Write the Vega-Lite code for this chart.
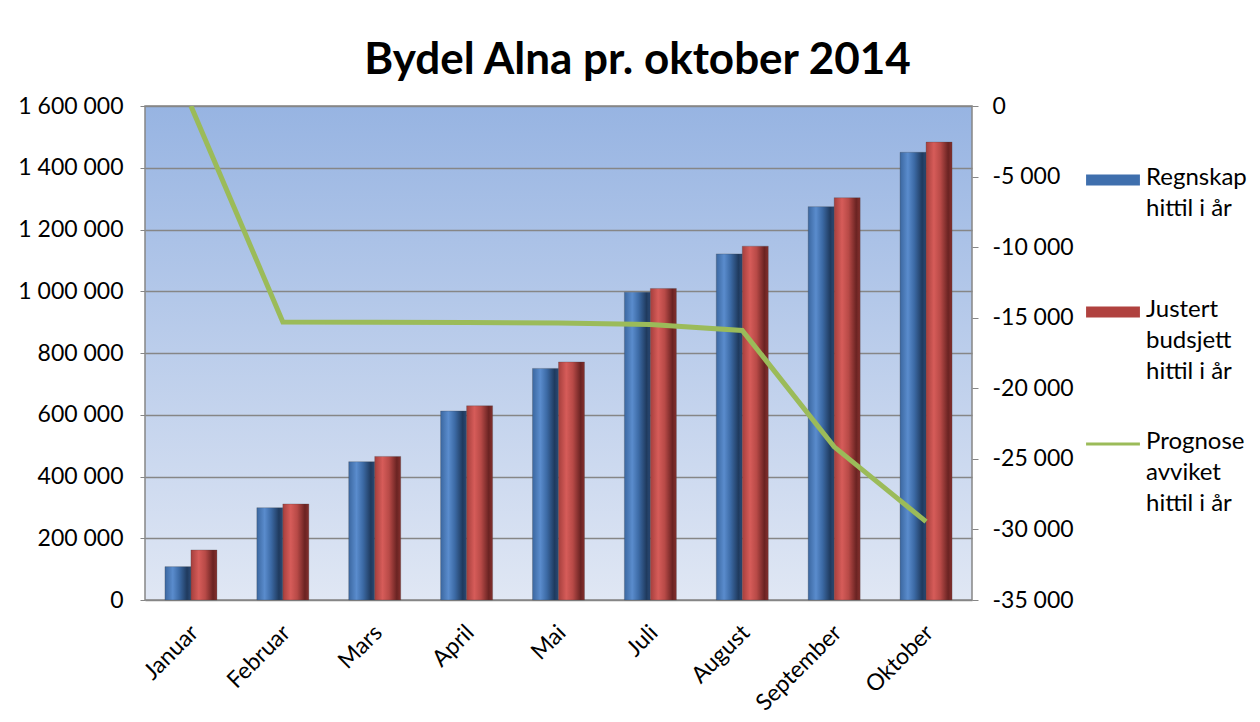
{
  "$schema": "https://vega.github.io/schema/vega-lite/v6.json",
  "autosize": {"type": "none"},
  "width": 827,
  "height": 494,
  "padding": {"left": 145, "top": 106, "right": 288, "bottom": 122},
  "background": "white",
  "title": {
    "text": "Bydel Alna pr. oktober 2014",
    "font": "Lato",
    "fontSize": 44,
    "fontWeight": "bold",
    "color": "#000000",
    "anchor": "middle",
    "dx": 79,
    "offset": 12
  },
  "config": {
    "locale": {
      "number": {"decimal": ",", "thousands": " ", "grouping": [3], "currency": ["", " kr"], "minus": "-"}
    },
    "view": {"stroke": "#868686", "strokeWidth": 1.5},
    "axis": {"labelFont": "Lato", "labelFontSize": 23, "labelColor": "#000000", "titleFont": "Lato"},
    "legend": {"labelFont": "Lato", "labelFontSize": 24, "labelColor": "#000000"}
  },
  "datasets": {
    "bars": [
      {"maaned": "Januar", "serie": "Regnskap hittil i år", "belop": 108000},
      {"maaned": "Januar", "serie": "Justert budsjett hittil i år", "belop": 162000},
      {"maaned": "Februar", "serie": "Regnskap hittil i år", "belop": 299000},
      {"maaned": "Februar", "serie": "Justert budsjett hittil i år", "belop": 311000},
      {"maaned": "Mars", "serie": "Regnskap hittil i år", "belop": 448000},
      {"maaned": "Mars", "serie": "Justert budsjett hittil i år", "belop": 465000},
      {"maaned": "April", "serie": "Regnskap hittil i år", "belop": 612000},
      {"maaned": "April", "serie": "Justert budsjett hittil i år", "belop": 629000},
      {"maaned": "Mai", "serie": "Regnskap hittil i år", "belop": 750000},
      {"maaned": "Mai", "serie": "Justert budsjett hittil i år", "belop": 771000},
      {"maaned": "Juli", "serie": "Regnskap hittil i år", "belop": 997000},
      {"maaned": "Juli", "serie": "Justert budsjett hittil i år", "belop": 1009000},
      {"maaned": "August", "serie": "Regnskap hittil i år", "belop": 1121000},
      {"maaned": "August", "serie": "Justert budsjett hittil i år", "belop": 1146000},
      {"maaned": "September", "serie": "Regnskap hittil i år", "belop": 1274000},
      {"maaned": "September", "serie": "Justert budsjett hittil i år", "belop": 1303000},
      {"maaned": "Oktober", "serie": "Regnskap hittil i år", "belop": 1450000},
      {"maaned": "Oktober", "serie": "Justert budsjett hittil i år", "belop": 1483000}
    ],
    "prognose": [
      {"maaned": "Januar", "serie": "Prognose avviket hittil i år", "avvik": 0},
      {"maaned": "Februar", "serie": "Prognose avviket hittil i år", "avvik": -15300},
      {"maaned": "Mars", "serie": "Prognose avviket hittil i år", "avvik": -15320},
      {"maaned": "April", "serie": "Prognose avviket hittil i år", "avvik": -15340},
      {"maaned": "Mai", "serie": "Prognose avviket hittil i år", "avvik": -15380},
      {"maaned": "Juli", "serie": "Prognose avviket hittil i år", "avvik": -15480},
      {"maaned": "August", "serie": "Prognose avviket hittil i år", "avvik": -15900},
      {"maaned": "September", "serie": "Prognose avviket hittil i år", "avvik": -24150},
      {"maaned": "Oktober", "serie": "Prognose avviket hittil i år", "avvik": -29450}
    ]
  },
  "layer": [
    {
      "data": {"name": "bars"},
      "mark": {"type": "bar", "stroke": "#3a3a3a", "strokeWidth": 0.5, "strokeOpacity": 0.5},
      "encoding": {
        "x": {
          "field": "maaned",
          "type": "nominal",
          "sort": ["Januar", "Februar", "Mars", "April", "Mai", "Juli", "August", "September", "Oktober"],
          "scale": {"paddingInner": 0.434, "paddingOuter": 0.217},
          "axis": {
            "title": null,
            "domain": false,
            "ticks": false,
            "labelAngle": -45,
            "labelAlign": "right",
            "labelBaseline": "top",
            "labelPadding": 21,
            "labelOffset": -4
          }
        },
        "xOffset": {
          "field": "serie",
          "type": "nominal",
          "sort": ["Regnskap hittil i år", "Justert budsjett hittil i år"],
          "scale": {"paddingInner": 0, "paddingOuter": 0}
        },
        "y": {
          "field": "belop",
          "type": "quantitative",
          "scale": {"domain": [0, 1600000], "nice": false},
          "axis": {
            "title": null,
            "values": [0, 200000, 400000, 600000, 800000, 1000000, 1200000, 1400000, 1600000],
            "format": ",d",
            "domain": false,
            "grid": true,
            "gridColor": "#868686",
            "gridWidth": 1.5,
            "tickColor": "#868686",
            "tickSize": 5,
            "labelPadding": 17
          }
        },
        "fill": {
          "condition": {
            "test": "datum.serie === 'Regnskap hittil i år'",
            "value": {
              "gradient": "linear", "x1": 0, "x2": 1, "y1": 0, "y2": 0,
              "stops": [
                {"offset": 0, "color": "#3b67a0"},
                {"offset": 0.3, "color": "#5a8ccd"},
                {"offset": 0.55, "color": "#3c6aa5"},
                {"offset": 0.85, "color": "#1f3a5e"},
                {"offset": 1, "color": "#2b4a75"}
              ]
            }
          },
          "value": {
            "gradient": "linear", "x1": 0, "x2": 1, "y1": 0, "y2": 0,
            "stops": [
              {"offset": 0, "color": "#a53f3d"},
              {"offset": 0.3, "color": "#d65c59"},
              {"offset": 0.55, "color": "#b84a47"},
              {"offset": 0.85, "color": "#6a2322"},
              {"offset": 1, "color": "#84302e"}
            ]
          }
        }
      }
    },
    {
      "data": {"name": "prognose"},
      "mark": {"type": "line", "strokeWidth": 5, "clip": true},
      "encoding": {
        "x": {
          "field": "maaned",
          "type": "nominal",
          "sort": ["Januar", "Februar", "Mars", "April", "Mai", "Juli", "August", "September", "Oktober"]
        },
        "y": {
          "field": "avvik",
          "type": "quantitative",
          "scale": {"domain": [-35000, 0], "nice": false},
          "axis": {
            "orient": "right",
            "title": null,
            "values": [0, -5000, -10000, -15000, -20000, -25000, -30000, -35000],
            "format": ",d",
            "domain": false,
            "grid": false,
            "tickColor": "#868686",
            "tickSize": 6,
            "labelPadding": 14
          }
        },
        "color": {
          "field": "serie",
          "type": "nominal",
          "scale": {
            "domain": ["Regnskap hittil i år", "Justert budsjett hittil i år", "Prognose avviket hittil i år"],
            "range": ["#4a7ebb", "#be4b48", "#9bbb59"]
          },
          "legend": {
            "title": null,
            "orient": "none",
            "legendX": 941,
            "legendY": 47,
            "padding": 0,
            "symbolSize": 2900,
            "labelOffset": 6,
            "labelBaseline": "top",
            "labelLimit": 200,
            "rowPadding": 33,
            "labelExpr": "datum.label === 'Regnskap hittil i år' ? ['Regnskap', 'hittil i år', ''] : datum.label === 'Justert budsjett hittil i år' ? ['Justert', 'budsjett', 'hittil i år'] : ['Prognose', 'avviket', 'hittil i år']",
            "encode": {
              "symbols": {
                "update": {
                  "shape": {"signal": "datum.value === 'Prognose avviket hittil i år' ? 'M-1,-0.055H1V0.055H-1Z' : 'M-1,-0.2H1V0.2H-1Z'"},
                  "fill": {"signal": "datum.value === 'Regnskap hittil i år' ? '#3f6fad' : datum.value === 'Justert budsjett hittil i år' ? '#b0423f' : '#9bbb59'"},
                  "stroke": {"value": "#9bbb59"},
                  "strokeWidth": {"value": 0},
                  "opacity": {"value": 1}
                }
              },
              "labels": {
                "update": {
                  "lineHeight": {"value": 31},
                  "dy": {"value": -14}
                }
              }
            }
          }
        }
      }
    }
  ],
  "resolve": {"scale": {"y": "independent"}},
  "view": {
    "stroke": "#868686",
    "strokeWidth": 1.5,
    "fill": {
      "gradient": "linear", "x1": 0, "x2": 0, "y1": 0, "y2": 1,
      "stops": [
        {"offset": 0, "color": "#97b4e2"},
        {"offset": 1, "color": "#e0e7f4"}
      ]
    }
  }
}
